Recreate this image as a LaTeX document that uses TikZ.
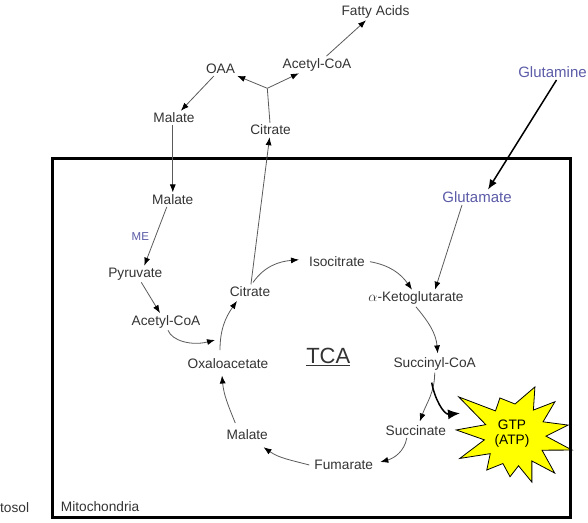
\documentclass[tikz,border=0pt]{standalone}
\usepackage{fontspec}
\setmainfont{Liberation Sans}
\usetikzlibrary{arrows.meta}
\definecolor{txt}{HTML}{333333}
\definecolor{ln}{HTML}{5A5A5A}
\definecolor{blu}{HTML}{5B5BA8}
\definecolor{burst}{HTML}{FFFF00}
\begin{document}
\begin{tikzpicture}[x=1pt,y=1pt,
  lbl/.style={text=txt, font=\fontsize{13.7}{16}\selectfont, inner sep=2pt},
  blbl/.style={text=blu, font=\fontsize{15}{17}\selectfont, inner sep=2pt},
  mlbl/.style={text=blu, font=\fontsize{11.5}{13}\selectfont, inner sep=1pt},
  arr/.style={draw=ln, line width=0.8pt, -{Latex[length=8pt,width=6pt,color=black]}},
  plain/.style={draw=ln, line width=0.8pt},
  bigarr/.style={draw=black, line width=1.5pt, -{Latex[length=12pt,width=10pt]}},
  glnarr/.style={draw=black, line width=1.5pt, -{Latex[length=10pt,width=8pt]}}
]
\useasboundingbox (0,0) rectangle (588,522);

% starburst
\draw[fill=burst, draw=black, line width=0.8pt, shift={(515,87)}]
  (145.9:68) -- (129:31) -- (112.2:40) -- (90:31) -- (67.5:52) -- (53.6:31)
  -- (39.8:52) -- (25.2:31) -- (10.6:54) -- (-2.1:31) -- (-14.8:59) -- (-29.3:31)
  -- (-43.8:55) -- (-57:31) -- (-70.3:50) -- (-83.5:31) -- (-96.8:42) -- (-113:31)
  -- (-128.9:45) -- (-143:31) -- (-157:60) -- (-171:31) -- (175.1:59) -- (160.5:31) -- cycle;
\node[align=center, text=black, font=\fontsize{13.7}{15}\selectfont, inner sep=0pt] (gtp) at (512,88) {GTP\\(ATP)};

% mitochondria box
\draw[line width=3pt, draw=black] (52.5,5) rectangle (570.5,363);

% nodes
\node[lbl] (fatty) at (375.5,510.3) {Fatty Acids};
\node[lbl] (acoaT) at (317,457.3) {Acetyl-CoA};
\node[lbl] (oaa) at (220.5,453) {OAA};
\node[lbl] (malT) at (174,404) {Malate};
\node[lbl] (citT) at (270.5,392) {Citrate};
\coordinate (J) at (267.3,433.7);
\node[blbl] (gln) at (552.5,449.7) {Glutamine};
\node[blbl] (glu) at (477,324.7) {Glutamate};
\node[lbl] (mal2) at (172.8,322.3) {Malate};
\node[mlbl] (me) at (140.3,285.3) {ME};
\node[lbl] (pyr) at (135.3,248) {Pyruvate};
\node[lbl] (acoa) at (166,200.3) {Acetyl-CoA};
\node[lbl] (cit) at (250,230.3) {Citrate};
\node[lbl] (iso) at (337,260.3) {Isocitrate};
\node[lbl] (akg) at (416,223.7) {$\alpha$-Ketoglutarate};
\node[text=txt, font=\fontsize{22}{24}\selectfont, inner sep=0pt] (tca) at (328.3,164.7) {\underline{TCA}};
\node[lbl] (oxa) at (228,158.7) {Oxaloacetate};
\node[lbl] (scoa) at (434.7,158) {Succinyl-CoA};
\node[lbl] (sucn) at (415.8,91.3) {Succinate};
\node[lbl] (fum) at (343.8,57) {Fumarate};
\node[lbl] (mal3) at (247.3,87.7) {Malate};
\node[lbl, anchor=east] (cyto) at (31.3,14.7) {tosol};
\node[lbl, anchor=west] (mito) at (58.7,15.3) {Mitochondria};
\coordinate (acin) at (215,182);
\coordinate (gtptip) at (460,108.7);

% cytosol connectors
\draw[arr] (acoaT) -- (fatty);
\draw[plain] (citT) -- (J);
\draw[arr] (J) -- (oaa);
\draw[arr] (J) -- (acoaT);
\draw[arr] (oaa) -- (malT);
\draw[arr] (mal2.north |- malT.south) -- (mal2.north);
\draw[arr] (cit) -- (citT);
\draw[glnarr] ([xshift=4pt]gln.south) -- ([xshift=11pt]glu.north);
\draw[arr] ([xshift=-15pt]glu.south) -- ([xshift=19pt]akg.north);
\draw[arr] ([xshift=-6pt]mal2.south) -- ([xshift=9pt]pyr.north);
\draw[arr] ([xshift=6pt]pyr.south) -- ([xshift=-6pt]acoa.north);
\draw[arr] ([xshift=2pt]acoa.south) .. controls (172,181) and (192,176) .. (acin);

% TCA cycle
\draw[arr] ([shift={(-8pt,6pt)}]oxa.north) to[out=90,in=235] ([shift={(-13pt,-2pt)}]cit.south);
\draw[arr] ([shift={(3pt,2pt)}]cit.north) to[out=55,in=185] ([shift={(-8pt,2pt)}]iso.west);
\draw[arr] ([xshift=3pt]iso.east) to[out=-10,in=125] ([xshift=-4pt]akg.north);
\draw[arr] (akg.south) to[out=-50,in=95] ([shift={(3pt,2pt)}]scoa.north);
\draw[arr] (scoa.south) to[out=-90,in=70] ([shift={(4pt,2pt)}]sucn.north);
\draw[bigarr] ([shift={(-3pt,-10pt)}]scoa.south) to[out=-80,in=185] (gtptip);
\draw[arr] ([xshift=-9pt]sucn.south) to[out=-100,in=15] ([shift={(5pt,3pt)}]fum.east);
\draw[arr] ([xshift=-3pt]fum.west) to[out=165,in=-35] ([shift={(-6.5pt,-5.7pt)}]mal3.south east);
\draw[arr] ([shift={(-12pt,4pt)}]mal3.north) to[out=112,in=-85] ([shift={(-6pt,-5pt)}]oxa.south);
\end{tikzpicture}
\end{document}
